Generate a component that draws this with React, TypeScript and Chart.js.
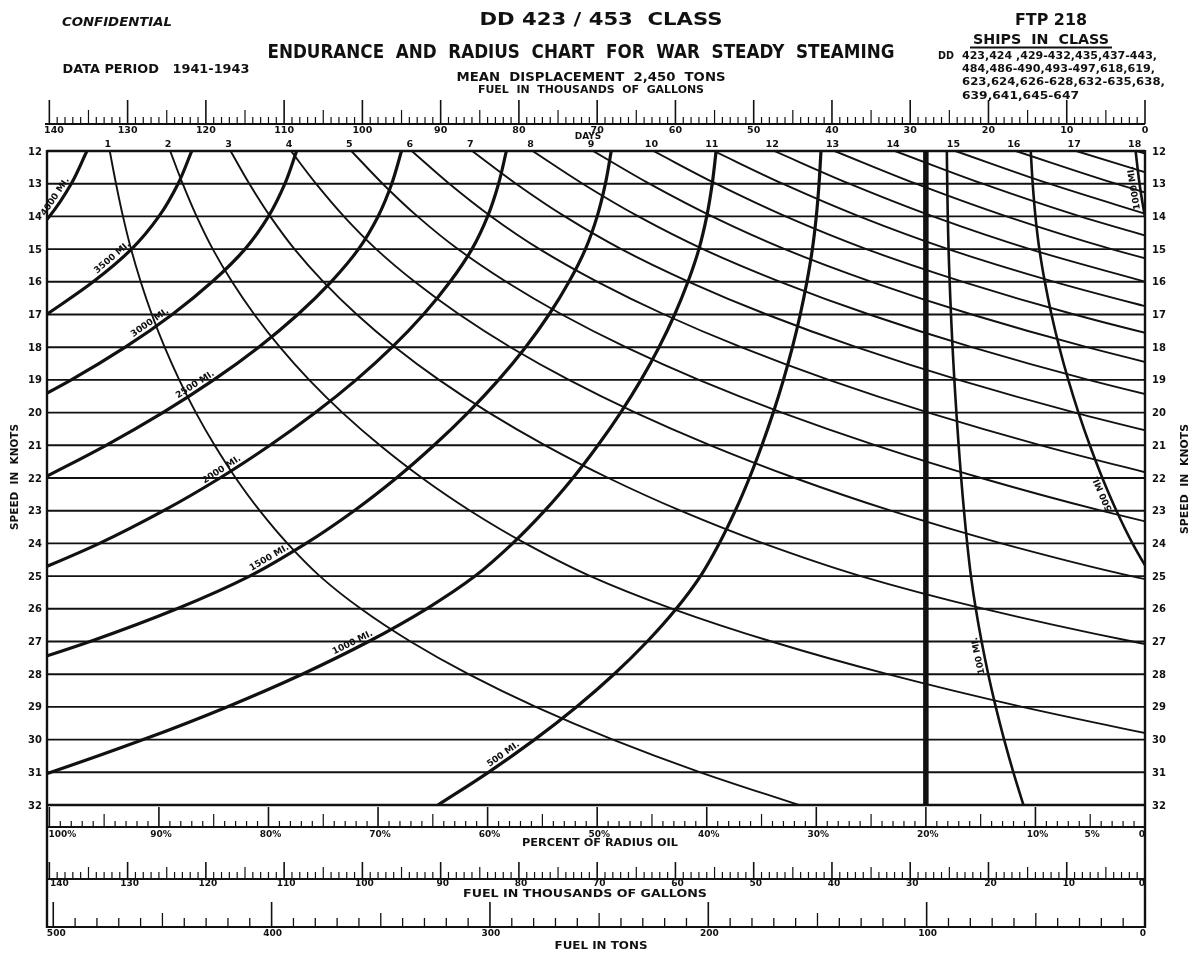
import React, { useEffect, useRef } from "react";
import { Chart, registerables } from "chart.js";

Chart.register(...registerables);

// ---------------- data ----------------
const speedsKnots = [12, 13, 14, 15, 16, 17, 18, 19, 20, 21, 22, 23, 24, 25, 26, 27, 28, 29, 30, 31, 32];
// fuel burned per nautical mile at each speed (gallons / mile)
const gallonsPerMile = [26.8, 27.3, 28.0, 29.0, 30.4, 32.1, 34.1, 36.4, 39.0, 41.9, 45.1, 48.7, 52.8, 57.6, 63.8, 71.2, 79.7, 89.3, 100.0, 111.8, 124.7];
const dayLabels = [1, 2, 3, 4, 5, 6, 7, 8, 9, 10, 11, 12, 13, 14, 15, 16, 17, 18];
const radiusMiles = [4000, 3500, 3000, 2500, 2000, 1500, 1000, 500];
const reserveRadiusMiles = [100, 500, 1000];
const fullLoadKgal = 140;
const reservePercent = 20;
const fuelTickLabels = [140, 130, 120, 110, 100, 90, 80, 70, 60, 50, 40, 30, 20, 10, 0];
const percentTickLabels = [100, 90, 80, 70, 60, 50, 40, 30, 20, 10, 5, 0];
const tonsTickLabels = [500, 400, 300, 200, 100, 0];
const gallonsPerTon = 279;
const shipsInClass = [
  "423,424 ,429-432,435,437-443,",
  "484,486-490,493-497,618,619,",
  "623,624,626-628,632-635,638,",
  "639,641,645-647",
];

// ---------------- derived tables ----------------
const X_MAX = 140.3;
const kgalPerMile = gallonsPerMile.map((g) => g / 1000);
const reserveKgal = (fullLoadKgal * reservePercent) / 100;

type P = { x: number; y: number };
function keepUntil(points: P[], outside: (x: number) => boolean): P[] {
  const out: P[] = [];
  for (const p of points) {
    out.push(p);
    if (outside(p.x)) break;
  }
  return out;
}
const dayCurves = dayLabels.map((d) =>
  keepUntil(
    speedsKnots.map((v, i) => ({ x: fullLoadKgal - d * 24 * v * kgalPerMile[i], y: v })),
    (x) => x < 0
  )
);
const radiusCurves = radiusMiles.map((m) =>
  keepUntil(
    speedsKnots.map((v, i) => ({ x: reserveKgal + m * kgalPerMile[i], y: v })),
    (x) => x > X_MAX
  )
);
const reserveCurves = reserveRadiusMiles.map((m) =>
  keepUntil(
    speedsKnots.map((v, i) => ({ x: reserveKgal - m * kgalPerMile[i], y: v })),
    (x) => x < 0
  )
);
const reserveLine = [
  { x: reserveKgal, y: speedsKnots[0] },
  { x: reserveKgal, y: speedsKnots[speedsKnots.length - 1] },
];

// ---------------- drawing ----------------
const INK = "#111111";
const FONT = '"DejaVu Sans", "Liberation Sans", sans-serif';

function txt(
  ctx: CanvasRenderingContext2D,
  s: string,
  cx: number,
  cy: number,
  size: number,
  o: { w?: number; italic?: boolean; rot?: number; align?: CanvasTextAlign; base?: CanvasTextBaseline } = {}
) {
  ctx.save();
  ctx.font = `${o.italic ? "italic " : ""}bold ${size}px ${FONT}`;
  ctx.fillStyle = INK;
  ctx.translate(cx, cy);
  if (o.rot) ctx.rotate(o.rot);
  if (o.w) {
    const m = ctx.measureText(s).width;
    ctx.scale(o.w / m, 1);
  }
  ctx.textAlign = o.align || "center";
  ctx.textBaseline = o.base || "middle";
  ctx.fillText(s, 0, 0);
  ctx.restore();
}

function line(ctx: CanvasRenderingContext2D, x0: number, y0: number, x1: number, y1: number, w: number) {
  ctx.lineWidth = w;
  ctx.beginPath();
  ctx.moveTo(x0, y0);
  ctx.lineTo(x1, y1);
  ctx.stroke();
}

function anchorOn(chart: any, pts: P[], v: number) {
  const xs = chart.scales.x;
  const ys = chart.scales.y;
  let i = pts.findIndex((p, k) => k < pts.length - 1 && pts[k + 1].y > v);
  if (i < 0) i = pts.length - 2;
  const p0 = pts[i];
  const p1 = pts[i + 1];
  const t = (v - p0.y) / (p1.y - p0.y);
  const a = { x: xs.getPixelForValue(p0.x), y: ys.getPixelForValue(p0.y) };
  const b = { x: xs.getPixelForValue(p1.x), y: ys.getPixelForValue(p1.y) };
  return { x: a.x + (b.x - a.x) * t, y: a.y + (b.y - a.y) * t, ang: Math.atan2(a.y - b.y, a.x - b.x) };
}

// where along each curve (in knots) its label sits
const RADIUS_LABEL_AT = [13.5, 15.4, 17.4, 19.3, 21.9, 24.6, 27.2, 30.6];
const RESERVE_LABEL_AT = [27.4, 22.4, 13.1];

const TOP_SCALE_Y = 124;
const PCT_Y = 827;
const GAL_Y = 879;
const TON_Y = 927;

const nomogramPlugin = {
  id: "nomogram",
  beforeDatasetsDraw(chart: any) {
    const { ctx, chartArea: a, scales } = chart;
    ctx.save();
    ctx.strokeStyle = INK;
    speedsKnots.forEach((v) => {
      const py = scales.y.getPixelForValue(v);
      line(ctx, a.left, py, a.right, py, v === 12 || v === 32 ? 2.7 : 1.9);
    });
    ctx.restore();
  },
  afterDatasetsDraw(chart: any) {
    const { ctx, chartArea: a, scales } = chart;
    const xs = scales.x;
    const ys = scales.y;
    ctx.save();
    ctx.strokeStyle = INK;
    ctx.fillStyle = INK;

    // frame
    line(ctx, a.left, a.top - 1, a.left, TON_Y + 1, 2.4);
    line(ctx, a.right, a.top - 1, a.right, TON_Y + 1, 2.4);
    line(ctx, a.left, PCT_Y, a.right, PCT_Y, 2);
    line(ctx, a.left, GAL_Y, a.right, GAL_Y, 2);
    line(ctx, a.left, TON_Y, a.right, TON_Y, 2.2);

    // top fuel scale
    line(ctx, a.left - 2, TOP_SCALE_Y, a.right, TOP_SCALE_Y, 1.8);
    for (let f = 0; f <= fullLoadKgal; f++) {
      const px = xs.getPixelForValue(f);
      const h = f % 10 === 0 ? 24 : f % 5 === 0 ? 14 : 7;
      line(ctx, px, TOP_SCALE_Y, px, TOP_SCALE_Y - h, f % 10 === 0 ? 1.6 : 1.2);
    }
    fuelTickLabels.forEach((f) => {
      const px = xs.getPixelForValue(f);
      txt(ctx, String(f), Math.max(px, 54), TOP_SCALE_Y + 7, 9.5);
    });
    txt(ctx, "DAYS", 588, 137, 9);

    // days labels
    dayCurves.forEach((pts, k) => {
      txt(ctx, String(dayLabels[k]), xs.getPixelForValue(pts[0].x) - 2, 145, 9.5);
    });

    // percent of radius oil scale
    for (let p = 0; p <= 100; p++) {
      const px = xs.getPixelForValue((p * fullLoadKgal) / 100);
      const h = p % 10 === 0 ? 20 : p % 5 === 0 ? 13 : 6;
      line(ctx, px, PCT_Y, px, PCT_Y - h, p % 10 === 0 ? 1.6 : 1.2);
    }
    percentTickLabels.forEach((p) => {
      const px = xs.getPixelForValue((p * fullLoadKgal) / 100);
      const s = p === 0 ? "0" : p + "%";
      const cx = p === 100 ? px + 13 : p === 0 ? px - 3 : px + 2;
      txt(ctx, s, cx, PCT_Y + 8, 9);
    });
    txt(ctx, "PERCENT OF RADIUS OIL", 600, 843, 10.5, { w: 156 });

    // fuel in thousands of gallons
    for (let f = 0; f <= fullLoadKgal; f++) {
      const px = xs.getPixelForValue(f);
      const h = f % 10 === 0 ? 17 : f % 5 === 0 ? 12 : 7;
      line(ctx, px, GAL_Y, px, GAL_Y - h, f % 10 === 0 ? 1.6 : 1.2);
    }
    fuelTickLabels.forEach((f) => {
      const px = xs.getPixelForValue(f);
      const cx = f === 140 ? px + 10 : f === 0 ? px - 3 : px + 2;
      txt(ctx, String(f), cx, GAL_Y + 5, 9);
    });
    txt(ctx, "FUEL IN THOUSANDS OF GALLONS", 585, 894, 10.5, { w: 244 });

    // fuel in tons
    for (let t = 0; t <= 500; t += 10) {
      const px = xs.getPixelForValue((t * gallonsPerTon) / 1000);
      const h = t % 100 === 0 ? 25 : t % 50 === 0 ? 14 : 9;
      line(ctx, px, TON_Y, px, TON_Y - h, t % 100 === 0 ? 1.6 : 1.3);
    }
    tonsTickLabels.forEach((t) => {
      const px = xs.getPixelForValue((t * gallonsPerTon) / 1000);
      const cx = t === 500 ? px + 3 : t === 0 ? px - 2 : px + 1;
      txt(ctx, String(t), cx, TON_Y + 7, 9);
    });
    txt(ctx, "FUEL IN TONS", 601, 946, 10.5, { w: 93 });

    // speed labels
    speedsKnots.forEach((v) => {
      const py = ys.getPixelForValue(v);
      txt(ctx, String(v), 35, py + 1, 10);
      txt(ctx, String(v), 1159, py + 1, 10);
    });
    txt(ctx, "SPEED  IN  KNOTS", 15, 477, 10.5, { rot: -Math.PI / 2, w: 106 });
    txt(ctx, "SPEED  IN  KNOTS", 1185, 479, 10.5, { rot: -Math.PI / 2, w: 110 });

    // curve labels
    const curveLabel = (pts: P[], v: number, s: string) => {
      const an = anchorOn(chart, pts, v);
      ctx.save();
      ctx.translate(an.x, an.y);
      ctx.rotate(an.ang);
      ctx.font = `bold 9px ${FONT}`;
      ctx.textAlign = "center";
      ctx.textBaseline = "bottom";
      ctx.fillText(s, 0, -1.5);
      ctx.restore();
    };
    radiusCurves.forEach((pts, k) => curveLabel(pts, RADIUS_LABEL_AT[k], `${radiusMiles[k]} MI.`));
    reserveCurves.forEach((pts, k) => curveLabel(pts, RESERVE_LABEL_AT[k], `${reserveRadiusMiles[k]} MI.`));

    // titles
    txt(ctx, "CONFIDENTIAL", 117, 23, 12.5, { italic: true, w: 110 });
    txt(ctx, "DD 423 / 453  CLASS", 601, 20, 18, { w: 243 });
    txt(ctx, "ENDURANCE  AND  RADIUS  CHART  FOR  WAR  STEADY  STEAMING", 581, 53, 19, { w: 627 });
    txt(ctx, "DATA PERIOD   1941-1943", 156, 70, 12.5, { w: 187 });
    txt(ctx, "MEAN  DISPLACEMENT  2,450  TONS", 591, 78, 12.5, { w: 269 });
    txt(ctx, "FUEL  IN  THOUSANDS  OF  GALLONS", 591, 90, 10.5, { w: 226 });
    txt(ctx, "FTP 218", 1051, 21, 15, { w: 72 });
    txt(ctx, "SHIPS  IN  CLASS", 1041, 40, 13.5, { w: 136 });
    line(ctx, 970, 47.5, 1112, 47.5, 1.8);
    txt(ctx, "DD", 946, 56, 11, { w: 16 });
    const shipW = [195, 193, 203, 117];
    shipsInClass.forEach((s, k) => {
      txt(ctx, s, 962 + shipW[k] / 2, 56 + k * 13.3, 11, { w: shipW[k] });
    });

    ctx.restore();
  },
};

export default function App() {
  const ref = useRef<HTMLCanvasElement>(null);
  useEffect(() => {
    const base = { borderColor: INK, pointRadius: 0, fill: false, showLine: true, clip: 0, tension: 0.35 };
    const datasets: any[] = [
      ...dayCurves.map((pts, k) => ({ ...base, label: `${dayLabels[k]} days`, data: pts, borderWidth: 1.9 })),
      ...radiusCurves.map((pts, k) => ({ ...base, label: `${radiusMiles[k]} mi`, data: pts, borderWidth: 3.2 })),
      ...reserveCurves.map((pts, k) => ({ ...base, label: `${reserveRadiusMiles[k]} mi reserve`, data: pts, borderWidth: 2.6 })),
      { ...base, label: `${reservePercent}%`, data: reserveLine, borderWidth: 5.5, tension: 0 },
    ];
    const chart = new Chart(ref.current as HTMLCanvasElement, {
      type: "scatter",
      data: { datasets },
      options: {
        animation: false,
        responsive: false,
        events: [],
        layout: { padding: { left: 47, right: 55, top: 151, bottom: 155 } },
        elements: { line: { capBezierPoints: false } },
        scales: {
          x: { type: "linear", reverse: true, min: 0, max: X_MAX, display: false },
          y: { type: "linear", reverse: true, min: 12, max: 32, display: false },
        },
        plugins: { legend: { display: false }, tooltip: { enabled: false } },
      } as any,
      plugins: [nomogramPlugin as any],
    });
    return () => chart.destroy();
  }, []);
  return (
    <div style={{ position: "absolute", left: 0, top: 0, width: 1200, height: 960, background: "#fff" }}>
      <canvas ref={ref} width={1200} height={960} style={{ display: "block", width: 1200, height: 960 }} />
    </div>
  );
}
